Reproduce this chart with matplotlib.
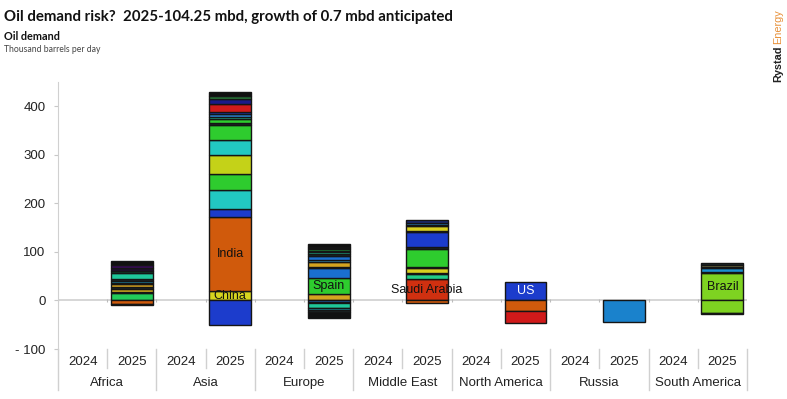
import matplotlib.pyplot as plt
import matplotlib.transforms as mtransforms
import numpy as np

# Regions and years on the category axis
regions = ["Africa", "Asia", "Europe", "Middle East", "North America", "Russia", "South America"]
years = ["2024", "2025"]

# Stacked 2025 change segments (thousand b/d), positive stacked up from 0, negative down from 0
africa_pos = [16, 2, 6, 3, 6, 3, 5, 4, 12, 4, 5, 7, 9]
africa_neg = [8, 2]
asia_pos = [20, 152, 16, 40, 32, 40, 30, 32, 4, 7, 5, 7, 3, 16, 10, 8, 8]
asia_neg = [51]
europe_pos = [14, 32, 20, 3, 10, 5, 8, 3, 4, 3, 4, 2, 3, 5]
europe_neg = [4, 2, 10, 4, 3, 14]
mideast_pos = [44, 10, 2, 10, 3, 38, 3, 31, 3, 9, 3, 4, 5]
mideast_neg = [5]
namerica_pos = [37]
namerica_neg = [21, 26]
russia_pos = []
russia_neg = [45]
samerica_pos = [56, 3, 7, 2, 5, 5]
samerica_neg = [26, 2]

# Country labels: (region index, positive segment index, name)
country_labels = [(1, 1, "India"), (1, 0, "China"), (2, 1, "Spain"),
                  (3, 0, "Saudi Arabia"), (4, 0, "US"), (6, 0, "Brazil")]

# Segment colours
YEL, ORG, BLU, CYN, GRN, YGR = "#d6d41e", "#d05a0c", "#1c3ccc", "#22c8c2", "#2ecc2e", "#c4d218"
TEAL, STL, RED, NAVY, DGRN, BLK = "#1fc79a", "#2a80d0", "#d01a1a", "#1a1a88", "#2a7a3a", "#111111"
GOLD, DARK, PURP, LIME, OLIV, MBLU = "#d4a420", "#1c2a2a", "#3a0a5a", "#7ed321", "#8a8a55", "#1a82cc"

pos_colors = [
    ["#22cc5a", DARK, "#d8b21e", DARK, GOLD, DARK, "#1fa2c4", DARK, TEAL, "#0f4a30", "#1e1030", PURP, BLK],
    [YEL, ORG, BLU, CYN, GRN, YGR, CYN, GRN, DARK, GRN, TEAL, STL, BLU, RED, NAVY, DGRN, BLK],
    [GOLD, GRN, "#1a6fd0", "#1a2a60", GOLD, "#3aa0d0", "#1a6fd0", DARK, TEAL, DARK, "#22aa44", DARK, "#22aa44", BLK],
    ["#d03010", "#22cc88", DARK, "#d8d020", DARK, GRN, DARK, BLU, DARK, "#d8d020", DARK, "#2a90d0", "#1a2a70"],
    [BLU],
    [],
    [LIME, DARK, "#1a90d0", DARK, OLIV, DARK],
]
neg_colors = [
    [ORG, DARK],
    [BLU],
    ["#1a6fd0", DARK, TEAL, "#20b0c0", DARK, BLK],
    [ORG],
    [ORG, RED],
    [MBLU],
    [LIME, DARK],
]

pos_data = [africa_pos, asia_pos, europe_pos, mideast_pos, namerica_pos, russia_pos, samerica_pos]
neg_data = [africa_neg, asia_neg, europe_neg, mideast_neg, namerica_neg, russia_neg, samerica_neg]

plt.rcParams['font.family'] = ['Liberation Sans', 'DejaVu Sans']

fig = plt.figure(figsize=(7.87, 3.99), dpi=100)
ax = fig.add_axes([58 / 787, 1 - 349 / 399, (747 - 58) / 787, (349 - 82) / 399])

width = 0.85
slots = np.arange(len(regions) * 2)
bar_x = slots[1::2]

for i, x in enumerate(bar_x):
    bottom = 0
    for val, col in zip(pos_data[i], pos_colors[i]):
        ax.bar(x, val, width=width, bottom=bottom, color=col, edgecolor="#151515", linewidth=1.0, zorder=3)
        bottom += val
    bottom = 0
    for val, col in zip(neg_data[i], neg_colors[i]):
        ax.bar(x, -val, width=width, bottom=bottom, color=col, edgecolor="#151515", linewidth=1.0, zorder=3)
        bottom -= val

for reg, seg, name in country_labels:
    vals = pos_data[reg]
    mid = sum(vals[:seg]) + vals[seg] / 2
    ax.text(bar_x[reg], mid, name, ha="center", va="center", fontsize=9,
            color="white" if name == "US" else "#111111", zorder=4)

# zero line with small category ticks
ax.axhline(0, color="#cfcfcf", lw=1.2, zorder=1)
ax.vlines(np.arange(-0.5, len(slots), 1), -4, 3, color="#bbbbbb", lw=0.8, zorder=1)

ax.set_xlim(-0.5, len(slots) - 0.5)
ax.set_ylim(-100, 450)
ax.set_yticks([-100, 0, 100, 200, 300, 400])
ax.set_yticklabels(["- 100", "0", "100", "200", "300", "400"])
ax.set_xticks([])
ax.tick_params(axis="y", length=3, color="#c8c8c8", labelsize=9.5, labelcolor="#222222", pad=6)
for s in ["top", "right", "bottom"]:
    ax.spines[s].set_visible(False)
ax.spines["left"].set_color("#d0d0d0")

# two level category axis
trans = mtransforms.blended_transform_factory(ax.transData, ax.transAxes)
for j, x in enumerate(slots):
    ax.text(x, -0.049, years[j % 2], transform=trans, ha="center", va="center", fontsize=9.5, color="#222222")
for i, name in enumerate(regions):
    ax.text(2 * i + 0.5, -0.127, name, transform=trans, ha="center", va="center", fontsize=9.5, color="#222222")
    ax.plot([2 * i + 0.5] * 2, [0, -0.071], transform=trans, color="#d0d0d0", lw=1, clip_on=False)
    ax.plot([2 * i + 1.5] * 2, [0, -0.154], transform=trans, color="#d0d0d0", lw=1, clip_on=False)
ax.plot([-0.5, -0.5], [0, -0.154], transform=trans, color="#d0d0d0", lw=1, clip_on=False)

# titles
fig.text(4 / 787, 1 - 17 / 399, "Oil demand risk?  2025-104.25 mbd, growth of 0.7 mbd anticipated",
         fontsize=10.8, fontweight="bold", family="Lato", va="center", color="#111111")
fig.text(4 / 787, 1 - 37 / 399, "Oil demand", fontsize=7.8, fontweight="bold", family="Lato",
         va="center", color="#111111")
fig.text(4 / 787, 1 - 49 / 399, "Thousand barrels per day", fontsize=6.2, family="Lato",
         va="center", color="#444444")

# logo: "Rystad" then "Energy" placed right after it
rystad = fig.text(778 / 787, 1 - 82 / 399, "Rystad", rotation=90, fontsize=7.8, fontweight="bold",
                  ha="center", va="bottom", color="#222222")
fig.canvas.draw()
bb = rystad.get_window_extent().transformed(fig.transFigure.inverted())
fig.text(778 / 787, bb.y1 + 1 / 399, "Energy", rotation=90, fontsize=7.8,
         ha="center", va="bottom", color="#e8913a")

fig.savefig("out.png", dpi=100)
